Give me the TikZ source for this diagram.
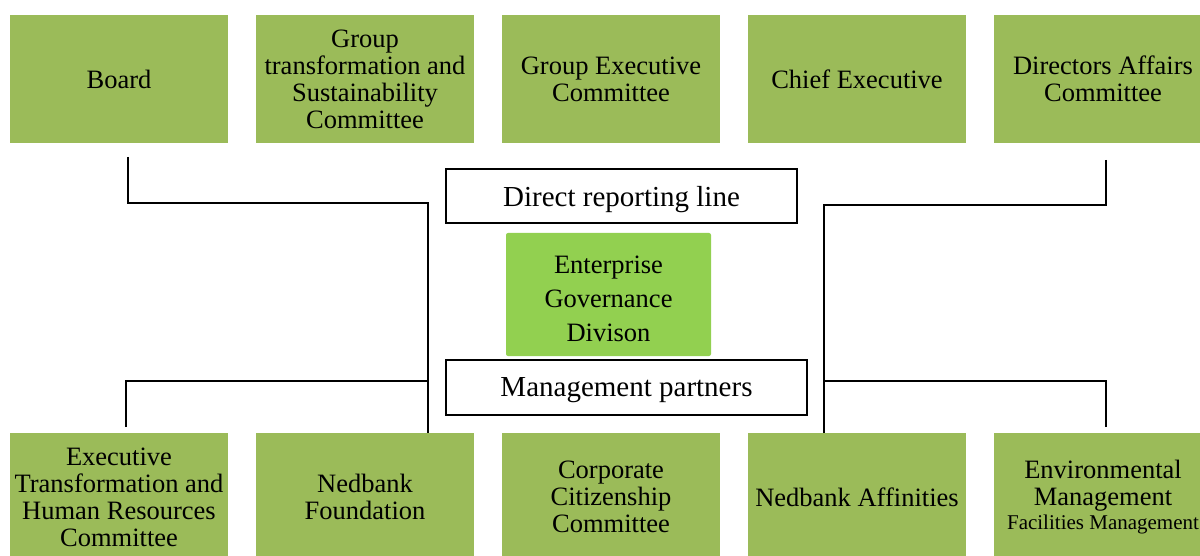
\documentclass[tikz,border=0pt]{standalone}
\usepackage{fontspec}
\setmainfont{Liberation Serif}
\definecolor{olive}{HTML}{9BBB59}
\definecolor{lime}{HTML}{92D050}
\tikzset{
  unit/.style={rectangle, fill=olive, draw=none, minimum width=218pt, minimum height=128pt,
    inner sep=0pt, align=center, font=\fontsize{26.5}{27}\selectfont},
  core/.style={rectangle, rounded corners=2pt, fill=lime, draw=none, minimum width=205pt,
    minimum height=123pt, inner sep=0pt, align=center, font=\fontsize{26.5}{34}\selectfont},
  legendbox/.style={rectangle, draw=black, line width=2pt, fill=white, inner sep=0pt,
    text depth=0pt, font=\fontsize{29}{30}\selectfont},
  conn/.style={draw=black, line width=2pt}
}
\begin{document}
\begin{tikzpicture}[x=1pt, y=-1pt]
\useasboundingbox (0,0) rectangle (1200,556);
\clip (0,0) rectangle (1200,556);

% top row
\node[unit] (t1) at (119,79) {Board};
\node[unit] (t2) at (365,79) {Group\\transformation and\\Sustainability\\Committee};
\node[unit] (t3) at (611,79) {Group Executive\\Committee};
\node[unit] (t4) at (857,79) {Chief Executive};
\node[unit] (t5) at (1103,79) {Directors Affairs\\Committee};

% bottom row
\node[unit] (b1) at (119,497) {Executive\\Transformation and\\Human Resources\\Committee};
\node[unit] (b2) at (365,497) {Nedbank\\Foundation};
\node[unit] (b3) at (611,497) {Corporate\\Citizenship\\Committee};
\node[unit] (b4) at (857,497) {Nedbank Affinities};
\node[unit] (b5) at (1103,497) {Environmental\\Management\\[-3pt]{\fontsize{21}{22}\selectfont Facilities Management}};

% centre
\node[legendbox, minimum width=351pt, minimum height=54pt] (dr) at (621.5,196.5) {Direct reporting line};
\node[core] (eg) at (608.5,294.5) {\raisebox{-6pt}[\height][\depth]{\begin{tabular}{@{}c@{}}Enterprise\\Governance\\Divison\end{tabular}}};
\node[legendbox, minimum width=361pt, minimum height=55pt] (mp) at (626.5,387.5) {Management partners};

% reporting lines
\coordinate (la) at (128,157);
\coordinate (lj) at (428,203);
\coordinate (lm) at (428,381);
\coordinate (lb) at (126,427);
\coordinate (ra) at (1106,160);
\coordinate (rj) at (824,205);
\coordinate (rm) at (824,381);
\coordinate (rb) at (1106,427);

\draw[conn] (la) |- (lj) -- (lj |- b2.north);
\draw[conn] (lb) |- (lm);
\draw[conn] (ra) |- (rj) -- (rj |- b4.north);
\draw[conn] (rb) |- (rm);
\end{tikzpicture}
\end{document}
